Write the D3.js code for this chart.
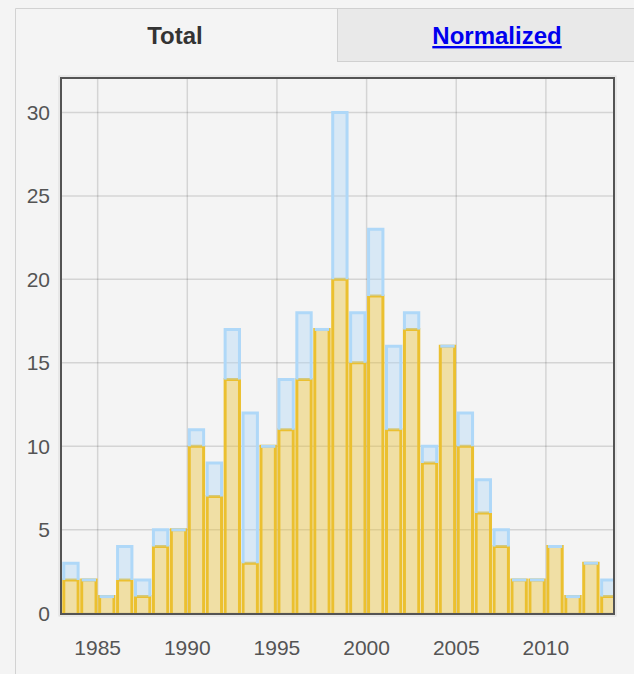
<!DOCTYPE html>
<html>
<head>
<meta charset="utf-8">
<script src="https://cdn.jsdelivr.net/npm/d3@7"></script>
<style>
  body { margin: 0; background: #f4f4f4; font-family: "Liberation Sans", Arial, sans-serif; }
  svg { display: block; }
</style>
</head>
<body>
<div id="chart"></div>
<script>
// yearly counts: total (blue) and the subset drawn in yellow
var years = [1983, 1984, 1985, 1986, 1987, 1988, 1989, 1990, 1991, 1992,
             1993, 1994, 1995, 1996, 1997, 1998, 1999, 2000, 2001, 2002,
             2003, 2004, 2005, 2006, 2007, 2008, 2009, 2010, 2011, 2012, 2013];
var totals = [3, 2, 1, 4, 2, 5, 5, 11, 9, 17,
              12, 10, 14, 18, 17, 30, 18, 23, 16, 18,
              10, 16, 12, 8, 5, 2, 2, 4, 1, 3, 2];
var subset = [2, 2, 1, 2, 1, 4, 5, 10, 7, 14,
              3, 10, 11, 14, 17, 20, 15, 19, 11, 17,
              9, 16, 10, 6, 4, 2, 2, 4, 1, 3, 1];
var yTicks = [0, 5, 10, 15, 20, 25, 30];
var xTicks = [1985, 1990, 1995, 2000, 2005, 2010];
var tabs = ["Total", "Normalized"];

var width = 634, height = 674;
var pLeft = 61, pRight = 614, pTop = 78, pBottom = 614;
var yellow = "#ebc030", blue = "#afd8f8";

var svg = d3.select("#chart").append("svg")
    .attr("width", width)
    .attr("height", height);

// tab panel
svg.append("path")
    .attr("d", "M15.5," + height + "V8.5H" + width)
    .attr("fill", "none")
    .attr("stroke", "#d2d2d2");
svg.append("rect")
    .attr("x", 337.5).attr("y", 8.5)
    .attr("width", 300).attr("height", 53)
    .attr("fill", "#e9e9e9")
    .attr("stroke", "#d0d0d0");

svg.append("text")
    .attr("x", 175).attr("y", 44)
    .attr("text-anchor", "middle")
    .style("font-size", "24px")
    .style("font-weight", "bold")
    .style("fill", "#333")
    .text(tabs[0]);

svg.append("text")
    .attr("x", 497).attr("y", 44)
    .attr("text-anchor", "middle")
    .style("font-size", "24px")
    .style("font-weight", "bold")
    .style("fill", "#0000ee")
    .style("text-decoration", "underline")
    .text(tabs[1]);

var x = d3.scaleLinear().domain([1983, 2014]).range([61.8, 617.6]);
var y = d3.scaleLinear().domain([0, 32]).range([613.3, 79]);

svg.append("clipPath").attr("id", "plotclip")
  .append("rect")
    .attr("x", pLeft).attr("y", pTop)
    .attr("width", pRight - pLeft).attr("height", pBottom - pTop);

var plot = svg.append("g").attr("clip-path", "url(#plotclip)");

// grid
plot.selectAll(".hgrid")
    .data(yTicks)
    .enter()
    .append("line")
    .attr("class", "hgrid")
    .attr("x1", pLeft).attr("x2", pRight)
    .attr("y1", function(d) { return y(d); })
    .attr("y2", function(d) { return y(d); })
    .attr("stroke", "rgba(0,0,0,0.13)")
    .attr("stroke-width", 1.5);

plot.selectAll(".vgrid")
    .data(xTicks)
    .enter()
    .append("line")
    .attr("class", "vgrid")
    .attr("y1", pTop).attr("y2", pBottom)
    .attr("x1", function(d) { return x(d); })
    .attr("x2", function(d) { return x(d); })
    .attr("stroke", "rgba(0,0,0,0.13)")
    .attr("stroke-width", 1.5);

// stacked: yellow from 0, blue from yellow top to total
var rows = years.map(function(yr, i) {
  return { year: yr, low: subset[i], high: totals[i] };
});
var barStart = 0.11, barEnd = 0.91;

function drawSeries(cls, color, y0, y1) {
  plot.selectAll(".fill-" + cls)
      .data(rows)
      .enter()
      .append("rect")
      .attr("class", "fill-" + cls)
      .attr("x", function(d) { return x(d.year + barStart); })
      .attr("width", function(d) { return x(d.year + barEnd) - x(d.year + barStart); })
      .attr("y", function(d) { return y(y1(d)); })
      .attr("height", function(d) { return y(y0(d)) - y(y1(d)); })
      .attr("fill", color)
      .attr("fill-opacity", 0.4);

  plot.selectAll(".line-" + cls)
      .data(rows)
      .enter()
      .append("path")
      .attr("class", "line-" + cls)
      .attr("d", function(d) {
        var a = x(d.year + barStart), b = x(d.year + barEnd);
        return "M" + a + "," + y(y0(d)) + "V" + y(y1(d)) + "H" + b + "V" + y(y0(d));
      })
      .attr("fill", "none")
      .attr("stroke", color)
      .attr("stroke-width", 3);
}

drawSeries("y", yellow, function(d) { return 0; }, function(d) { return d.low; });
drawSeries("b", blue, function(d) { return d.low; }, function(d) { return d.high; });

// frame
svg.append("rect")
    .attr("x", pLeft - 2).attr("y", pTop - 2)
    .attr("width", pRight - pLeft + 4).attr("height", pBottom - pTop + 4)
    .attr("fill", "none")
    .attr("stroke", "#dcdcdc")
    .attr("stroke-width", 1);
svg.append("rect")
    .attr("x", pLeft).attr("y", pTop)
    .attr("width", pRight - pLeft).attr("height", pBottom - pTop)
    .attr("fill", "none")
    .attr("stroke", "#545454")
    .attr("stroke-width", 2);

// tick labels
svg.selectAll(".ylab")
    .data(yTicks)
    .enter()
    .append("text")
    .attr("class", "ylab")
    .attr("x", 50)
    .attr("y", function(d) { return y(d); })
    .attr("dy", "0.36em")
    .attr("text-anchor", "end")
    .style("font-size", "21px")
    .style("fill", "#545454")
    .text(function(d) { return d; });

svg.selectAll(".xlab")
    .data(xTicks)
    .enter()
    .append("text")
    .attr("class", "xlab")
    .attr("x", function(d) { return x(d); })
    .attr("y", 647)
    .attr("dy", "0.36em")
    .attr("text-anchor", "middle")
    .style("font-size", "21px")
    .style("fill", "#545454")
    .text(function(d) { return d; });
</script>
</body>
</html>
